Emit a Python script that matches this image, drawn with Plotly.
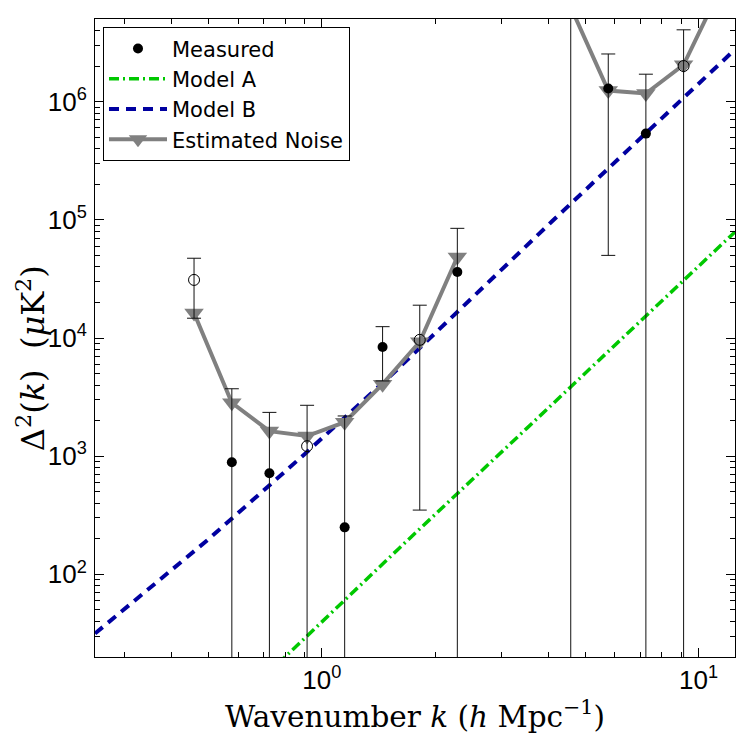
import numpy as np
import plotly.graph_objects as go

# ---- data ----
k_bins = [0.458, 0.577, 0.726, 0.914, 1.15, 1.45, 1.82, 2.29, 2.89, 3.63,
          4.58, 5.76, 7.25, 9.13, 11.5]
# signed measured power (negative values drawn as open circles, |value|)
measured = [-31000, 890, 718, -1216, 250, 8400, -9650, 36200, np.nan, np.nan,
            5.8e6, 1.29e6, 5.36e5, -2.0e6, np.nan]
noise = [16300, 2830, 1630, 1480, 1940, 4070, 9300, 48500, np.nan, np.nan,
         6.3e6, 1.24e6, 1.17e6, 2.05e6, 9.4e6]

modelA_k = [0.7, 1.6, 3.5, 12.5]
modelA = [13.4, 165, 1720, 79000]
modelB_k = [0.25, 0.5, 0.9, 1.55, 4.1, 12.5]
modelB = [31.6, 198, 1040, 5050, 98200, 2.76e6]

x_ticks = [1, 10]
x_ticktext = ["10<sup>0</sup>", "10<sup>1</sup>"]
y_ticks = [1e2, 1e3, 1e4, 1e5, 1e6]
y_ticktext = ["10<sup>2</sup>", "10<sup>3</sup>", "10<sup>4</sup>", "10<sup>5</sup>", "10<sup>6</sup>"]

# ---- derived ----
pos_k = [k for k, m in zip(k_bins, measured) if not np.isnan(m) and m > 0]
pos_v = [m for m in measured if not np.isnan(m) and m > 0]
pos_e = [n for m, n in zip(measured, noise) if not np.isnan(m) and m > 0]
neg_k = [k for k, m in zip(k_bins, measured) if not np.isnan(m) and m < 0]
neg_v = [-m for m in measured if not np.isnan(m) and m < 0]
neg_e = [n for m, n in zip(measured, noise) if not np.isnan(m) and m < 0]

minor_x = [d * 10 ** e for e in (-1, 0, 1) for d in range(2, 10)]
minor_y = [d * 10 ** e for e in range(1, 7) for d in range(2, 10)]

fig = go.Figure()

fig.add_trace(go.Scatter(x=modelA_k, y=modelA, mode="lines", name="Model A",
                         line=dict(color="#00C800", width=3.5, dash="10px,4px,2px,4px"),
                         legendrank=2))
fig.add_trace(go.Scatter(x=modelB_k, y=modelB, mode="lines", name="Model B",
                         line=dict(color="#0000A0", width=4, dash="10px,7px"),
                         legendrank=3))
fig.add_trace(go.Scatter(x=k_bins, y=noise, mode="lines+markers", name="Estimated Noise",
                         line=dict(color="#808080", width=4),
                         marker=dict(symbol="triangle-down", size=17, color="#808080"),
                         legendrank=4))
err_style = dict(type="data", color="#111111", thickness=1, width=7, visible=True)
fig.add_trace(go.Scatter(x=neg_k, y=neg_v, mode="markers", name="Measured", showlegend=False,
                         marker=dict(symbol="circle-open", size=11, color="black",
                                     line=dict(width=1, color="black")),
                         error_y=dict(array=neg_e, **err_style)))
fig.add_trace(go.Scatter(x=pos_k, y=pos_v, mode="markers", name="Measured",
                         marker=dict(symbol="circle", size=10, color="black"),
                         error_y=dict(array=pos_e, **err_style),
                         legendrank=1))

axis_common = dict(type="log", showline=True, linecolor="black", linewidth=1, mirror="ticks",
                   ticks="inside", ticklen=9, tickcolor="black", showgrid=False, zeroline=False,
                   automargin=False,
                   tickfont=dict(family="Liberation Sans", size=26, color="black"))

fig.update_xaxes(range=[np.log10(0.25), np.log10(12.5)], tickvals=x_ticks, ticktext=x_ticktext,
                 minor=dict(tickvals=minor_x, ticks="inside", ticklen=5, tickcolor="black", showgrid=False),
                 title=dict(text="Wavenumber <i>k</i> (<i>h</i> Mpc<sup>−1</sup>)",
                            font=dict(family="DejaVu Serif", size=29.5, color="black"), standoff=6),
                 **axis_common)
fig.update_yaxes(range=[np.log10(20), np.log10(5e6)], tickvals=y_ticks, ticktext=y_ticktext,
                 ticklabelstandoff=2,
                 minor=dict(tickvals=minor_y, ticks="inside", ticklen=5, tickcolor="black", showgrid=False),
                 **axis_common)

fig.add_annotation(text="Δ<sup>2</sup>(<i>k</i>)\u00a0\u00a0(<i>μ</i>K<sup>2</sup>)",
                   xref="paper", yref="paper", x=-0.101, y=0.469,
                   xanchor="center", yanchor="middle", textangle=-90, showarrow=False,
                   font=dict(family="DejaVu Serif", size=32, color="black"))

# the page adds an 8px body margin, so margins are offset to keep the plot box in place
fig.update_layout(
    width=747, height=747,
    margin=dict(l=87, r=20, t=11, b=98),
    paper_bgcolor="white", plot_bgcolor="white",
    legend=dict(x=0.0125, y=0.987, xanchor="left", yanchor="top",
                bgcolor="white", bordercolor="black", borderwidth=1,
                font=dict(family="DejaVu Sans", size=21, color="black"),
                itemwidth=58, tracegroupgap=0),
)

fig.write_html("out.html")
